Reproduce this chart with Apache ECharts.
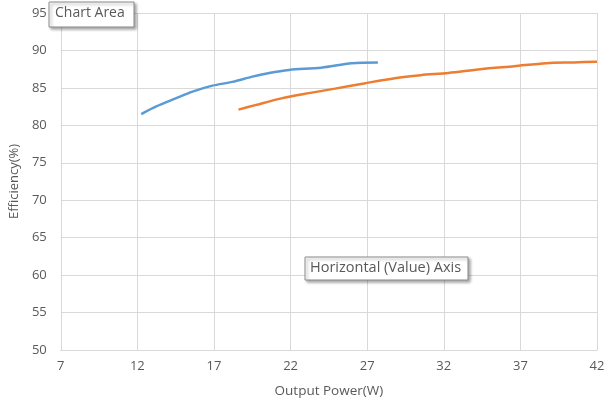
<!DOCTYPE html>
<html>
<head>
<meta charset="utf-8">
<script src="https://cdn.jsdelivr.net/npm/echarts@6/dist/echarts.min.js"></script>
<style>html,body{margin:0;padding:0;background:#fff}#c{width:610px;height:403px}</style>
</head>
<body>
<div id="c"></div>
<script>
var xMin = 7, xMax = 42, xStep = 5;
var yMin = 50, yMax = 95, yStep = 5;
var xTitle = 'Output Power(W)';
var yTitle = 'Efficiency(%)';
var series1X = [12.25, 13.2, 14.5, 15.6, 16.9, 18.2, 19.5, 20.6, 21.9, 24.0, 26.0, 27.7];
var series1Y = [81.5, 82.5, 83.6, 84.5, 85.3, 85.8, 86.5, 87.0, 87.4, 87.7, 88.3, 88.4];
var series2X = [18.6, 19.7, 21.4, 23.2, 24.9, 26.8, 28.8, 30.5, 32.3, 34.4, 36.6, 38.7, 40.5, 42.0];
var series2Y = [82.1, 82.7, 83.6, 84.3, 84.9, 85.6, 86.3, 86.7, 87.0, 87.5, 87.9, 88.3, 88.4, 88.5];
var tipChartArea = 'Chart Area';
var tipAxis = 'Horizontal (Value) Axis';

function pairs(xs, ys) { return xs.map(function (x, i) { return [x - xMin, ys[i]]; }); }
var font = '"Open Sans", "Liberation Sans", sans-serif';
var chart = echarts.init(document.getElementById('c'));
chart.setOption({
  animation: false,
  grid: { left: 57, right: 13, top: 13, bottom: 52, containLabel: false },
  xAxis: {
    type: 'value', min: 0, max: xMax - xMin, interval: xStep,
    name: xTitle, nameLocation: 'middle', nameGap: 34,
    nameTextStyle: { color: '#595959', fontSize: 13.5, fontFamily: font },
    axisLine: { show: true, lineStyle: { color: '#d9d9d9' } },
    axisTick: { show: false },
    splitLine: { show: true, lineStyle: { color: '#d9d9d9' } },
    axisLabel: { color: '#595959', fontSize: 13, fontFamily: font, margin: 10,
      formatter: function (v) { return String(v + xMin); } }
  },
  yAxis: {
    type: 'value', min: yMin, max: yMax, interval: yStep,
    name: yTitle, nameLocation: 'middle', nameGap: 31,
    nameTextStyle: { color: '#595959', fontSize: 13, fontFamily: font },
    axisLine: { show: true, lineStyle: { color: '#d9d9d9' } },
    axisTick: { show: false },
    splitLine: { show: true, lineStyle: { color: '#d9d9d9' } },
    axisLabel: { color: '#595959', fontSize: 13, fontFamily: font, margin: 14 }
  },
  series: [
    { type: 'line', data: pairs(series1X, series1Y), smooth: 0.3, showSymbol: false,
      lineStyle: { color: '#5B9BD5', width: 2.5 }, itemStyle: { color: '#5B9BD5' } },
    { type: 'line', data: pairs(series2X, series2Y), smooth: 0.3, showSymbol: false,
      lineStyle: { color: '#ED7D31', width: 2.5 }, itemStyle: { color: '#ED7D31' } }
  ],
  graphic: [
    { type: 'rect', shape: { x: 49, y: 2, width: 85, height: 25 },
      style: { fill: '#fff', stroke: '#8c8c8c', lineWidth: 1, shadowBlur: 3, shadowOffsetX: 2, shadowOffsetY: 2, shadowColor: 'rgba(0,0,0,0.35)' }, z: 101 },
    { type: 'text', x: 55, y: 6, style: { text: tipChartArea, fill: '#595959', fontSize: 14, fontFamily: font }, z: 102 },
    { type: 'rect', shape: { x: 305, y: 257, width: 163, height: 23 },
      style: { fill: '#fff', stroke: '#8c8c8c', lineWidth: 1, shadowBlur: 3, shadowOffsetX: 2, shadowOffsetY: 2, shadowColor: 'rgba(0,0,0,0.35)' }, z: 101 },
    { type: 'text', x: 310, y: 260, style: { text: tipAxis, fill: '#595959', fontSize: 14.5, fontFamily: font }, z: 102 }
  ]
});
</script>
</body>
</html>
